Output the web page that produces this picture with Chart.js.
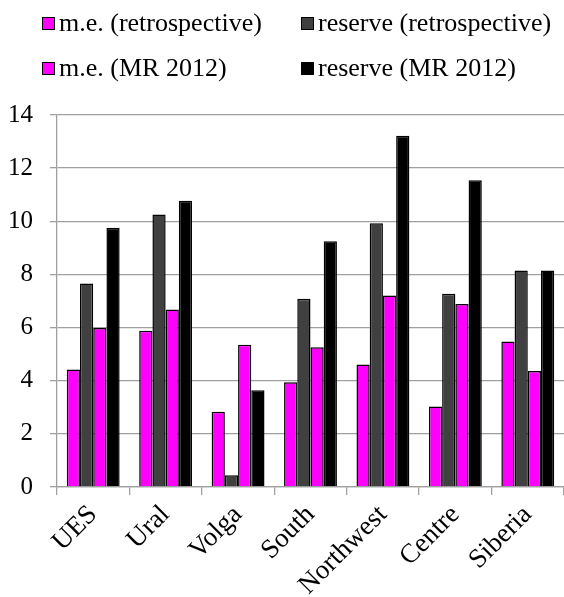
<!DOCTYPE html>
<html>
<head>
<meta charset="utf-8">
<script src="https://cdn.jsdelivr.net/npm/chart.js@4"></script>
<style>
    html, body { margin: 0; padding: 0; background: #ffffff; }
    #wrap { position: relative; width: 564px; height: 597px; }
    #chart { position: absolute; left: 0; top: 0; }
    .legend-item {
        position: absolute; display: flex; align-items: center;
        font-family: "Liberation Serif", "Times New Roman", serif;
        font-size: 26px; color: #000; white-space: nowrap; line-height: 1;
    }
    .legend-box {
        width: 11px; height: 11px; border: 1.5px solid #000;
        margin-right: 4px; flex: none;
    }
</style>
</head>
<body>
<div id="wrap">
    <canvas id="chart" width="564" height="597"></canvas>
    <div id="legend"></div>
</div>
<script>
// ----- data -----
const categories = ["UES", "Ural", "Volga", "South", "Northwest", "Centre", "Siberia"];
const meRetro = [4.42, 5.88, 2.83, 3.94, 4.61, 3.03, 5.48];
const reserveRetro = [7.66, 10.26, 0.44, 7.08, 9.93, 7.27, 8.15];
const meMR2012 = [5.98, 6.68, 5.35, 5.26, 7.21, 6.89, 4.37];
const reserveMR2012 = [9.76, 10.77, 3.64, 9.25, 13.22, 11.54, 8.15];
const yTicks = [0, 2, 4, 6, 8, 10, 12, 14];

const serif = "'Liberation Serif', 'Times New Roman', serif";
const gridGray = "#a0a0a0";

function bars(label, data, color) {
    return {
        label: label, data: data,
        backgroundColor: color, borderColor: "#000000", borderWidth: 1.5,
        categoryPercentage: 0.73, barPercentage: 1.0
    };
}

const chart = new Chart(document.getElementById("chart"), {
    type: "bar",
    data: {
        labels: categories,
        datasets: [
            bars("m.e. (retrospective)", meRetro, "#ff00ff"),
            bars("reserve (retrospective)", reserveRetro, "#404040"),
            bars("m.e. (MR 2012)", meMR2012, "#ff00ff"),
            bars("reserve (MR 2012)", reserveMR2012, "#000000")
        ]
    },
    options: {
        responsive: false,
        animation: false,
        devicePixelRatio: 1,
        layout: { padding: { top: 115, left: 0, right: 0, bottom: 0 } },
        plugins: { legend: { display: false }, tooltip: { enabled: false } },
        scales: {
            x: {
                grid: {
                    drawOnChartArea: false, drawTicks: true, tickLength: 8,
                    color: gridGray, lineWidth: 1.3
                },
                border: { color: gridGray, width: 1.3 },
                ticks: {
                    color: "#000", font: { family: serif, size: 27 },
                    maxRotation: 45, minRotation: 45, padding: 4
                },
                afterFit: function (scale) { scale.height = 110; }
            },
            y: {
                min: 0, max: 14,
                afterBuildTicks: function (scale) {
                    scale.ticks = yTicks.map(v => ({ value: v }));
                },
                grid: { color: gridGray, lineWidth: 1.3, tickLength: 7 },
                border: { color: gridGray, width: 1.3 },
                ticks: {
                    color: "#000", font: { family: serif, size: 25 },
                    padding: 17
                },
                afterFit: function (scale) { scale.width = 57; }
            }
        }
    }
});

// ----- legend (2 x 2 grid, like the original) -----
const legendPos = [
    { left: 42, mid: 23 }, { left: 301, mid: 23 },
    { left: 42, mid: 68 }, { left: 301, mid: 68 }
];
const legendEl = document.getElementById("legend");
chart.data.datasets.forEach(function (ds, i) {
    const item = document.createElement("div");
    item.className = "legend-item";
    item.style.left = legendPos[i].left + "px";
    item.style.top = (legendPos[i].mid - 13) + "px";
    item.style.height = "26px";
    const box = document.createElement("span");
    box.className = "legend-box";
    box.style.background = ds.backgroundColor;
    const text = document.createElement("span");
    text.textContent = ds.label;
    item.appendChild(box);
    item.appendChild(text);
    legendEl.appendChild(item);
});
</script>
</body>
</html>
